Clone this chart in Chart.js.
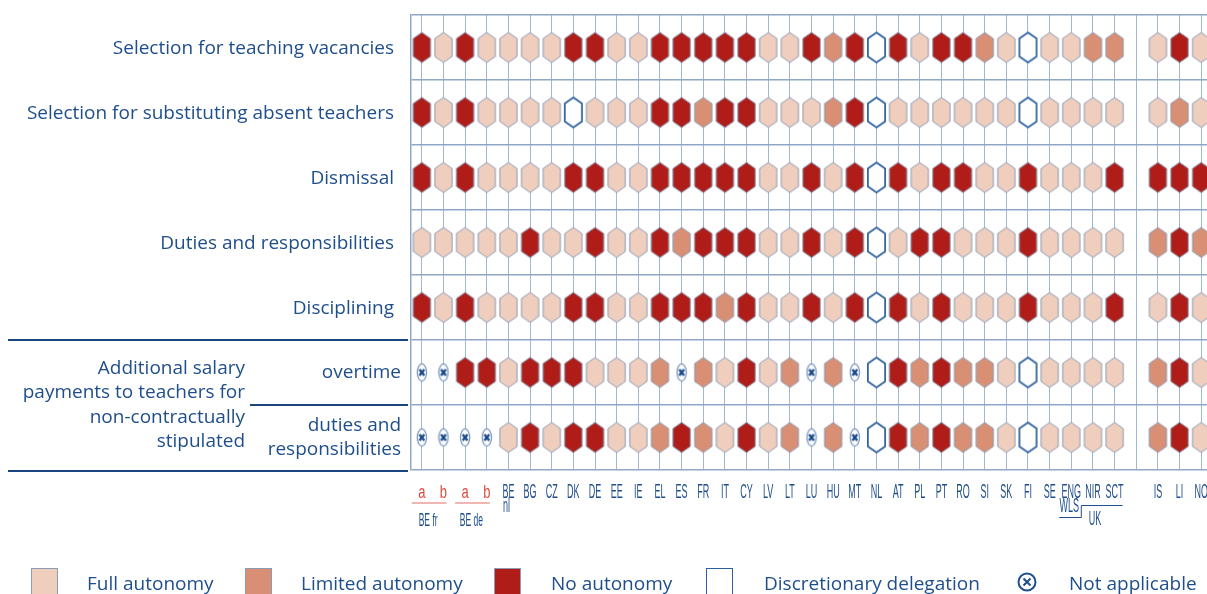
<!DOCTYPE html>
<html>
<head>
<meta charset="utf-8">
<script src="https://cdn.jsdelivr.net/npm/chart.js@4.4.1/dist/chart.umd.min.js"></script>
<style>
  html, body { margin: 0; padding: 0; background: #fff; overflow: hidden; width: 1207px; height: 594px; }
  #wrap { position: absolute; left: 0; top: 0; width: 1240px; height: 594px; }
  #legend { position: absolute; left: 0; top: 0; width: 1207px; height: 594px; pointer-events: none;
            font-family: "Open Sans", sans-serif; font-size: 19px; color: #1f4e8c; }
  .sw { position: absolute; top: 568px; width: 27px; height: 30px; box-sizing: border-box; border: 1px solid #8a9cb6; }
  .lt { position: absolute; top: 570px; line-height: 26px; white-space: nowrap; }
</style>
</head>
<body>
<div id="wrap"><canvas id="chart"></canvas></div>
<div id="legend"></div>
<script>
document.addEventListener('DOMContentLoaded', () => {

    // columns (country codes) - two entries = label on two lines
    const columns = [['a'], ['b'], ['a'], ['b'], ['BE', 'nl'], ['BG'], ['CZ'], ['DK'], ['DE'], ['EE'], ['IE'], ['EL'], ['ES'], ['FR'], ['IT'], ['CY'], ['LV'], ['LT'],
        ['LU'], ['HU'], ['MT'], ['NL'], ['AT'], ['PL'], ['PT'], ['RO'], ['SI'], ['SK'], ['FI'], ['SE'], ['ENG', 'WLS'], ['NIR'], ['SCT'], ['IS'], ['LI'], ['NO']];
    const groups = [{ text: 'BE fr', from: 0, to: 1 }, { text: 'BE de', from: 2, to: 3 }];
    const ukGroup = { text: 'UK', from: 30, to: 32 };

    const rowLabels = ['Selection for teaching vacancies', 'Selection for substituting absent teachers', 'Dismissal',
        'Duties and responsibilities', 'Disciplining', ['overtime'], ['duties and', 'responsibilities']];
    const salaryLabel = ['Additional salary', 'payments to teachers for', 'non-contractually', 'stipulated'];

    // F = full autonomy, L = limited, N = no autonomy, D = discretionary delegation, X = not applicable
    const teachingVacancies = ['N','F','N','F','F','F','F','N','N','F','F','N','N','N','N','N','F','F','N','L','N','D','N','F','N','N','L','F','D','F','F','L','L','F','N','F'];
    const substituteTeachers = ['N','F','N','F','F','F','F','D','F','F','F','N','N','L','N','N','F','F','F','L','N','D','F','F','F','F','F','F','D','F','F','F','F','F','L','F'];
    const dismissal = ['N','F','N','F','F','F','F','N','N','F','F','N','N','N','N','N','F','F','N','F','N','D','N','F','N','N','F','F','N','F','F','F','N','N','N','N'];
    const dutiesResp = ['F','F','F','F','F','N','F','F','N','F','F','N','L','N','N','N','F','F','N','F','N','D','F','N','N','F','F','F','N','F','F','F','F','L','N','L'];
    const disciplining = ['N','F','N','F','F','F','F','N','N','F','F','N','N','N','L','N','F','F','N','F','N','D','N','F','N','F','F','F','N','F','F','F','N','F','N','F'];
    const payOvertime = ['X','X','N','N','F','N','N','N','F','F','F','L','X','L','F','N','F','L','X','L','X','D','N','L','N','L','L','F','D','F','F','F','F','L','N','F'];
    const payDuties = ['X','X','X','X','F','N','F','N','N','F','F','L','N','L','F','N','F','L','X','L','X','D','N','L','N','L','L','F','D','F','F','F','F','L','N','F'];
    const rows = [teachingVacancies, substituteTeachers, dismissal, dutiesResp, disciplining, payOvertime, payDuties];

    const categories = [
        { code: 'F', label: 'Full autonomy', fill: '#f0cebd', stroke: '#8b9db7' },
        { code: 'L', label: 'Limited autonomy', fill: '#d88f73', stroke: '#8b9db7' },
        { code: 'N', label: 'No autonomy', fill: '#b01d18', stroke: '#7d8aa3' },
        { code: 'D', label: 'Discretionary delegation', fill: '#ffffff', stroke: '#2b5f9d' },
        { code: 'X', label: 'Not applicable', fill: '#ffffff', stroke: '#6f8fba' }
    ];

    const BLUE = '#1f4e8c';
    const GAP_COL = 33;
    const xPos = i => (i < GAP_COL ? i : i + 1);

    // --- marker images ---
    function hexImage(fill, stroke, lw) {
        const c = document.createElement('canvas');
        c.width = 21; c.height = 34;
        const g = c.getContext('2d');
        const cx = 10.5, cy = 17, w = 8.6, h = 15, k = 9;
        g.beginPath();
        g.moveTo(cx, cy - h); g.lineTo(cx + w, cy - k); g.lineTo(cx + w, cy + k);
        g.lineTo(cx, cy + h); g.lineTo(cx - w, cy + k); g.lineTo(cx - w, cy - k);
        g.closePath();
        g.fillStyle = fill; g.fill();
        g.lineWidth = lw; g.strokeStyle = stroke; g.stroke();
        return c;
    }
    function naImage() {
        const c = document.createElement('canvas');
        c.width = 12; c.height = 22;
        const g = c.getContext('2d');
        g.beginPath();
        g.ellipse(6, 11, 4.6, 8.6, 0, 0, Math.PI * 2);
        g.fillStyle = '#fff'; g.fill();
        g.lineWidth = 1.2; g.strokeStyle = '#6f8fba'; g.stroke();
        g.strokeStyle = '#1a4a8a'; g.lineWidth = 2.4;
        g.beginPath();
        g.moveTo(3.6, 8); g.lineTo(8.4, 14); g.moveTo(8.4, 8); g.lineTo(3.6, 14);
        g.stroke();
        return c;
    }
    function naLegendIcon() {
        const c = document.createElement('canvas');
        c.width = 22; c.height = 22;
        const g = c.getContext('2d');
        g.strokeStyle = BLUE; g.lineWidth = 2;
        g.beginPath(); g.arc(11, 11, 8.5, 0, Math.PI * 2); g.stroke();
        g.beginPath();
        g.moveTo(7.5, 7.5); g.lineTo(14.5, 14.5); g.moveTo(14.5, 7.5); g.lineTo(7.5, 14.5);
        g.stroke();
        return c;
    }

    const datasets = categories.map(cat => {
        const data = [];
        rows.forEach((row, r) => row.forEach((v, i) => { if (v === cat.code) data.push({ x: xPos(i), y: r + 0.5 }); }));
        const img = cat.code === 'X' ? naImage() : hexImage(cat.fill, cat.stroke, cat.code === 'D' ? 1.7 : 1);
        return { label: cat.label, data, pointStyle: img, pointRadius: 8, backgroundColor: cat.fill };
    });

    // --- text and decorations around the grid ---
    function condensed(g, text, x, y, color, sx) {
        g.save();
        g.translate(x, y);
        g.scale(sx, 1);
        g.fillStyle = color;
        g.fillText(text, 0, 0);
        g.restore();
    }

    const decorPlugin = {
        id: 'decor',
        afterDraw(chart) {
            const g = chart.ctx;
            const xs = chart.scales.x, ys = chart.scales.y;
            const area = chart.chartArea;
            g.save();

            // row labels
            g.font = '19px "Open Sans"';
            g.fillStyle = BLUE;
            g.textAlign = 'right';
            g.textBaseline = 'middle';
            for (let r = 0; r < 5; r++) g.fillText(rowLabels[r], 394, ys.getPixelForValue(r + 0.5) + 1);
            g.fillText(rowLabels[5][0], 401, ys.getPixelForValue(5.5));
            g.fillText(rowLabels[6][0], 401, ys.getPixelForValue(6.5) - 12);
            g.fillText(rowLabels[6][1], 401, ys.getPixelForValue(6.5) + 12);
            const midY = ys.getPixelForValue(6);
            salaryLabel.forEach((t, j) => g.fillText(t, 245, midY + (j - 1.5) * 24.5));

            // dark separators on the label side
            g.strokeStyle = '#1a4580';
            g.lineWidth = 2;
            g.beginPath();
            g.moveTo(8, ys.getPixelForValue(5)); g.lineTo(area.left - 3, ys.getPixelForValue(5));
            g.moveTo(250, ys.getPixelForValue(6)); g.lineTo(area.left - 3, ys.getPixelForValue(6));
            g.moveTo(8, ys.getPixelForValue(7) + 1); g.lineTo(area.left - 3, ys.getPixelForValue(7) + 1);
            g.stroke();

            // country labels
            const base = area.bottom + 28;
            g.textAlign = 'center';
            g.textBaseline = 'alphabetic';
            columns.forEach((lab, i) => {
                const x = xs.getPixelForValue(xPos(i));
                const red = i < 4;
                g.font = red ? '18px "Liberation Sans"' : '20px "Liberation Sans"';
                condensed(g, lab[0], x, base, red ? '#de4a3e' : BLUE, red ? 0.72 : 0.45);
                if (lab[1]) condensed(g, lab[1], x - 2, base + 14, BLUE, 0.45);
            });

            // BE fr / BE de group labels
            groups.forEach(grp => {
                const x0 = xs.getPixelForValue(grp.from) - 10, x1 = xs.getPixelForValue(grp.to) + 3;
                g.strokeStyle = '#e06f66'; g.lineWidth = 1.2;
                g.beginPath(); g.moveTo(x0, base + 5); g.lineTo(x1, base + 5); g.stroke();
                g.font = '19px "Liberation Sans"';
                condensed(g, grp.text, (x0 + x1) / 2 - 1, base + 28, BLUE, 0.45);
            });

            // UK bracket
            const ukx0 = xs.getPixelForValue(ukGroup.from) - 12;
            const ukx1 = xs.getPixelForValue(ukGroup.from) + 10;
            const ukx2 = xs.getPixelForValue(ukGroup.to) + 8;
            g.strokeStyle = BLUE; g.lineWidth = 1;
            g.beginPath();
            g.moveTo(ukx0, base + 19.5); g.lineTo(ukx1, base + 19.5); g.lineTo(ukx1, base + 7.5); g.lineTo(ukx2, base + 7.5);
            g.stroke();
            g.font = '20px "Liberation Sans"';
            condensed(g, ukGroup.text, xs.getPixelForValue(31) + 2, base + 27, BLUE, 0.45);

            g.restore();
        }
    };

    const ctx = document.getElementById('chart').getContext('2d');
    new Chart(ctx, {
        type: 'scatter',
        data: { datasets },
        options: {
            responsive: true,
            maintainAspectRatio: false,
            animation: false,
            events: [],
            layout: { padding: { left: 411, top: 15, right: 15, bottom: 124 } },
            plugins: { legend: { display: false }, tooltip: { enabled: false } },
            scales: {
                x: {
                    type: 'linear', min: -0.5, max: 37.1,
                    afterBuildTicks: s => { s.ticks = columns.map((c, i) => ({ value: xPos(i) })).concat([{ value: GAP_COL }]); },
                    ticks: { display: false },
                    grid: { color: '#a4b7cf', lineWidth: 1, drawTicks: false },
                    border: { display: false }
                },
                y: {
                    type: 'linear', min: 0, max: 7, reverse: true,
                    ticks: { display: false, stepSize: 1 },
                    grid: { color: '#8ea7c6', lineWidth: 1.5, drawTicks: false },
                    border: { display: true, color: '#8ea7c6', width: 1.5 }
                }
            }
        },
        plugins: [decorPlugin]
    });

    // legend
    const leg = document.getElementById('legend');
    const legPos = [{ sw: 31, tx: 87 }, { sw: 245, tx: 301 }, { sw: 494, tx: 551 }, { sw: 706, tx: 764 }, { sw: 1016, tx: 1069 }];
    categories.forEach((cat, i) => {
        const p = legPos[i];
        if (cat.code === 'X') {
            const s = naLegendIcon();
            s.style.position = 'absolute'; s.style.left = p.sw + 'px'; s.style.top = '571px';
            leg.appendChild(s);
        } else {
            const s = document.createElement('div');
            s.className = 'sw'; s.style.left = p.sw + 'px';
            s.style.background = cat.fill;
            s.style.borderColor = cat.code === 'D' ? '#2b5f9d' : '#8a9cb6';
            leg.appendChild(s);
        }
        const t = document.createElement('div');
        t.className = 'lt'; t.style.left = p.tx + 'px';
        t.innerText = cat.label;
        leg.appendChild(t);
    });

});
</script>
</body>
</html>
